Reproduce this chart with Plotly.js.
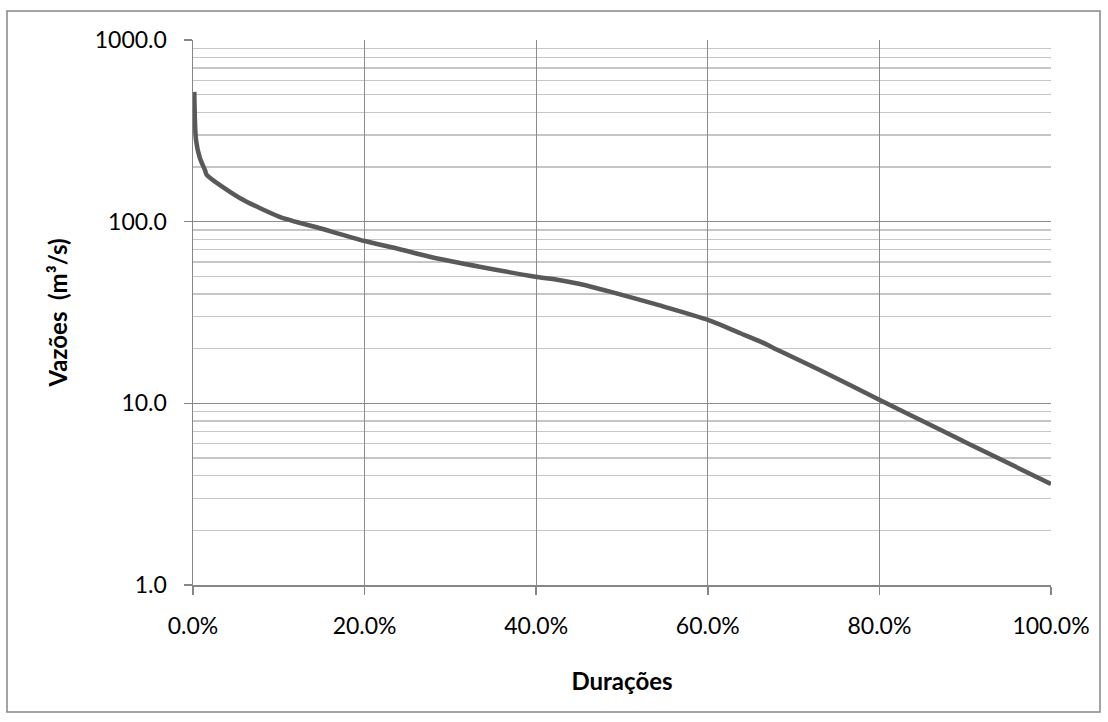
<!DOCTYPE html>
<html>
<head>
<meta charset="utf-8">
<script src="https://cdn.plot.ly/plotly-3.0.1.min.js"></script>
<style>html,body{margin:0;padding:0;background:#fff;}#chart{width:1108px;height:722px;}</style>
</head>
<body>
<div id="chart"></div>
<script>
// Curva de permanência: durações (fração do tempo) e vazões (m³/s)
const duracoes = [0.0015, 0.0035, 0.008, 0.014, 0.016, 0.055, 0.101, 0.148, 0.200, 0.241, 0.276, 0.334, 0.399, 0.428, 0.451, 0.486, 0.544, 0.601, 0.638, 0.662, 0.684, 0.731, 0.801, 0.824, 0.871, 0.902, 1.0];
const vazoes = [518, 282, 224, 192, 181, 134.6, 106.4, 92, 78.3, 70.5, 64.1, 56.5, 49.8, 47.6, 45.4, 41.2, 34.6, 28.7, 24.3, 21.8, 19.4, 15.2, 10.4, 9.2, 7.15, 6.05, 3.6];
const yTickVals = [1, 10, 100, 1000];
const yTickText = ["1.0", "10.0", "100.0", "1000.0"];
const xTickVals = [0, 0.2, 0.4, 0.6, 0.8, 1.0];
const xTickText = ["0.0%", "20.0%", "40.0%", "60.0%", "80.0%", "100.0%"];

const font = "Lato, 'Open Sans', sans-serif";
const trace = {
  x: duracoes, y: vazoes, type: 'scatter', mode: 'lines',
  line: {color: '#595959', width: 4.5, shape: 'spline', smoothing: 0.7},
  hoverinfo: 'skip'
};
const layout = {
  width: 1108, height: 722,
  margin: {l: 193, r: 57, t: 40, b: 137},
  paper_bgcolor: '#ffffff', plot_bgcolor: '#ffffff',
  showlegend: false,
  font: {family: font, color: '#000000', size: 23},
  xaxis: {
    range: [0, 1], tickvals: xTickVals, ticktext: xTickText,
    showgrid: true, gridcolor: '#8c8c8c', gridwidth: 1.3,
    showline: true, linecolor: '#868686', linewidth: 1.5,
    ticks: 'outside', ticklen: 8, tickcolor: '#868686', tickwidth: 1.5,
    ticklabelstandoff: 12,
    zeroline: false,
    title: {text: '<b>Durações</b>', font: {family: font, size: 24}, standoff: 35}
  },
  yaxis: {
    type: 'log', range: [0, 3], tickvals: yTickVals, ticktext: yTickText,
    showgrid: true, gridcolor: '#8c8c8c', gridwidth: 1.3,
    minor: {dtick: 'D1', showgrid: true, gridcolor: '#c6c6c6', gridwidth: 1.3, ticks: ''},
    showline: true, linecolor: '#868686', linewidth: 1.5,
    ticks: 'outside', ticklen: 8, tickcolor: '#868686', tickwidth: 1.5,
    ticklabelstandoff: 12,
    zeroline: false,
    title: {text: '<b>Vazões\u00A0\u00A0(m³/s)</b>', font: {family: font, size: 24}, standoff: 20}
  },
  shapes: [{
    type: 'rect', xref: 'paper', yref: 'paper',
    x0: -0.2168, x1: 1.0571, y0: -0.2330, y1: 1.0532,
    line: {color: '#868686', width: 1.5}, fillcolor: 'rgba(0,0,0,0)', layer: 'below'
  }]
};
Plotly.newPlot('chart', [trace], layout, {displayModeBar: false, staticPlot: true});
</script>
</body>
</html>
